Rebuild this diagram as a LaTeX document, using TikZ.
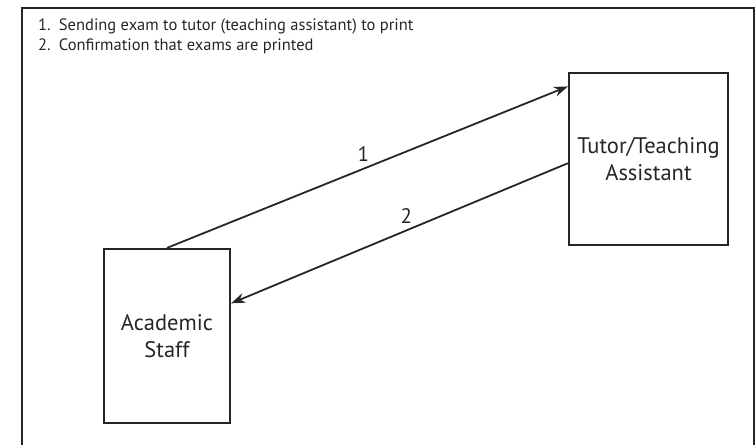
\documentclass[tikz,border=0pt]{standalone}
\usepackage{fontspec}
\setmainfont{PT Sans}
\usepackage{tikz}
\usepackage{xcolor}
\usetikzlibrary{arrows.meta}
\definecolor{inkgray}{HTML}{262626}
\tikzset{
    entity-box/.style = {draw=inkgray, line width=2.2pt, rectangle, align=center, text=inkgray, font=\fontsize{22.5}{27}\selectfont, inner sep=0pt},
    flow-arrow/.style = {draw=inkgray, line width=1.8pt, -{Stealth[length=14pt, width=10pt]}},
    flow-label/.style = {text=inkgray, font=\fontsize{21}{24}\selectfont},
    legend-text/.style = {text=inkgray, align=left, font=\fontsize{16.5}{20}\selectfont, inner sep=0pt},
}

\begin{document}
\begin{tikzpicture}[x=1pt, y=-1pt]
\useasboundingbox (0,0) rectangle (756,445);
\draw[draw=inkgray, line width=2.2pt] (22,445) -- (22,8) -- (754,8) -- (754,445);
\node[legend-text, anchor=north west] (legend) at (38,19) {1.\enspace Sending exam to tutor (teaching assistant) to print\\2.\enspace Confirmation that exams are printed};
\node[entity-box, minimum width=126pt, minimum height=174pt] (academic) at (167,336) {Academic\\Staff};
\node[entity-box, minimum width=159pt, minimum height=172pt] (tutor) at (648.5,159) {Tutor/Teaching\\Assistant};
\draw[flow-arrow] (academic.north) -- (tutor.138.6) node[flow-label, pos=0.49, above=3pt] (label-one) {1};
\draw[flow-arrow] (tutor.183.6) -- (academic.27.6) node[flow-label, pos=0.48, above=3pt] (label-two) {2};
\end{tikzpicture}
\end{document}
